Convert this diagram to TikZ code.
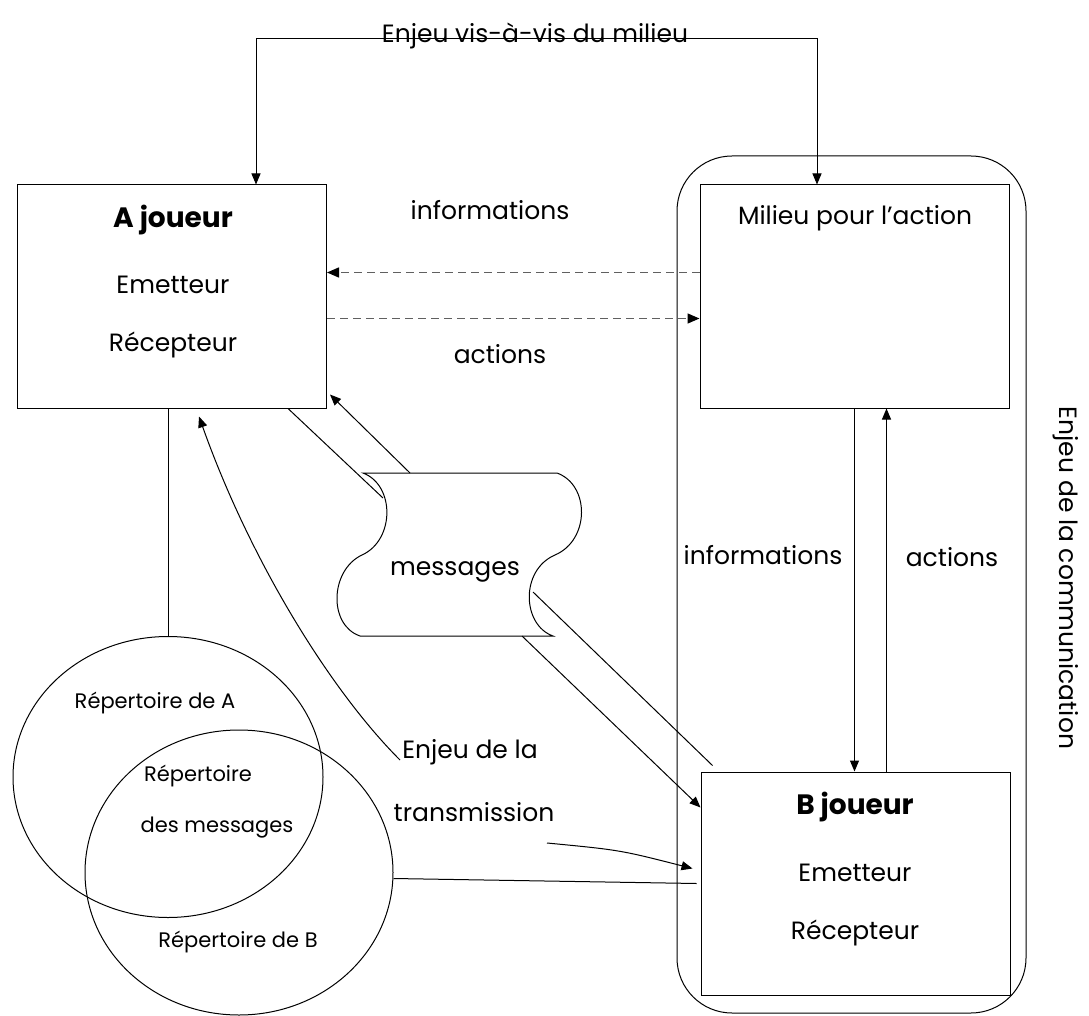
\documentclass[tikz,border=0pt]{standalone}
\usepackage{fontspec}
\setmainfont{Poppins}
\usepackage{tikz}
\usetikzlibrary{arrows.meta, positioning, shapes.geometric}

\tikzset{
  txt/.style={font=\fontsize{25}{30}\selectfont},
  bold/.style={font=\fontsize{28}{32}\selectfont\bfseries},
  small/.style={font=\fontsize{21}{24}\selectfont},
  box/.style={draw, minimum width=309pt, minimum height=223pt, inner sep=0pt},
  arr/.style={-{Triangle[length=11pt,width=9pt]}},
  dasharr/.style={-{Triangle[length=12pt,width=10pt,color=black]}, gray!75!black,
    line width=1.5pt, dash pattern=on 8pt off 5pt}
}

\begin{document}
\begin{tikzpicture}[x=1pt, y=-1pt, line width=1pt]
\useasboundingbox (0,0) rectangle (1089,1016);

% boxes
\node[box] (Ajoueur) at (172,296.5) {};
\node[box] (Milieu) at (854.5,296.5) {};
\node[box] (Bjoueur) at (855.5,883.5) {};
\node[draw, rounded corners=55pt, minimum width=349pt, minimum height=857pt] (comm) at (851.5,584.5) {};

% texts of the boxes
\node[bold] (Atitle) at (173,220) {A joueur};
\node[txt] (Aem) at (173,285) {Emetteur};
\node[txt] (Arec) at (173,345) {Récepteur};
\node[txt] (Mtitle) at (855,218) {Milieu pour l’action};
\node[bold] (Btitle) at (855,807) {B joueur};
\node[txt] (Bem) at (855,873) {Emetteur};
\node[txt] (Brec) at (855,933) {Récepteur};

% enjeu vis-a-vis du milieu
\coordinate (t1) at (256,39);
\coordinate (t2) at (817,39);
\draw[{Triangle[length=11pt,width=9pt]}-{Triangle[length=11pt,width=9pt]}]
  (t1 |- Ajoueur.north) -- (t1) -- (t2) -- (t2 |- Milieu.north);
\node[txt, anchor=base] (enjeuM) at (535,43) {Enjeu vis-à-vis du milieu};

% informations / actions between A and the milieu
\draw[dasharr] ([yshift=24pt]Milieu.west) -- ([yshift=24pt]Ajoueur.east);
\draw[dasharr] ([yshift=-22pt]Ajoueur.east) -- ([yshift=-22pt]Milieu.west);
\node[txt] (infoA) at (490,210) {informations};
\node[txt] (actA) at (500,354) {actions};

% informations / actions between the milieu and B
\draw[arr] (Milieu.south) -- (Milieu.south |- Bjoueur.north);
\draw[arr] ([xshift=31pt]Bjoueur.north) -- ([xshift=31pt]Bjoueur.north |- Milieu.south);
\node[txt] (infoB) at (763,555) {informations};
\node[txt] (actB) at (952,557) {actions};

% messages
\draw (363,473) -- (557,473)
  .. controls (590,485) and (590,540) .. (555,555)
  .. controls (520,570) and (522,625) .. (553,636)
  -- (360,636)
  .. controls (328,625) and (330,570) .. (362,555)
  .. controls (395,540) and (395,485) .. (363,473) -- cycle;
\node[txt] (msg) at (455,572) {messages};
\coordinate (m1) at (383,498);
\coordinate (m2) at (410,473);
\coordinate (m3) at (533,592);
\coordinate (m4) at (522,636);

\draw ([xshift=-39pt]Ajoueur.south east) -- (m1);
\draw[arr] (m2) -- ([xshift=3pt,yshift=14pt]Ajoueur.south east);
\draw (m3) -- ([xshift=12pt,yshift=6pt]Bjoueur.north west);
\draw[arr] (m4) -- ([yshift=-36pt]Bjoueur.north west);

% repertoires
\node[draw, ellipse, minimum width=310pt, minimum height=281pt] (repA) at (168,777) {};
\node[draw, ellipse, minimum width=308pt, minimum height=285pt] (repB) at (239,872.5) {};
\node[small] (repAtxt) at (155,703) {Répertoire de A};
\node[small] (repM1) at (198,776) {Répertoire};
\node[small] (repM2) at (217,828) {des messages};
\node[small] (repBtxt) at (238,942) {Répertoire de B};

\draw (Ajoueur.south -| repA.north) -- (repA.north);
\draw ([yshift=-6pt]repB.east) -- ([xshift=-4pt]Bjoueur.west);

% enjeu de la transmission
\node[txt] (transm1) at (470,752) {Enjeu de la};
\node[txt] (transm2) at (474,812) {transmission};
\coordinate (e1) at (400,760);
\coordinate (e2) at (547,843);
\draw[arr] (e1) .. controls (330,690) and (250,560) .. ([xshift=182pt,yshift=-8pt]Ajoueur.south west);
\draw[arr] (e2) .. controls (620,850) .. ([xshift=-8pt,yshift=15pt]Bjoueur.west);

% enjeu de la communication
\node[txt, rotate=-90] (enjeuC) at (1066,578) {Enjeu de la communication};
\end{tikzpicture}
\end{document}
